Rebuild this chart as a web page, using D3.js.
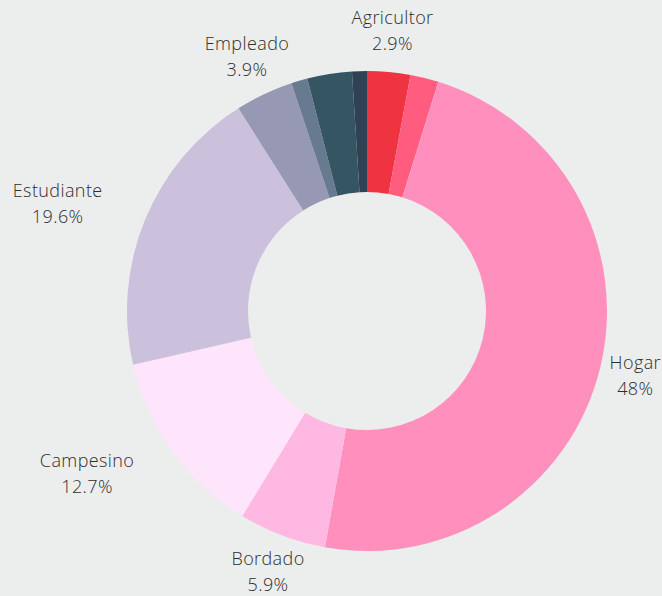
<!DOCTYPE html>
<html>
<head>
<meta charset="utf-8">
<script src="https://cdn.jsdelivr.net/npm/d3@7"></script>
<style>
  html, body { margin: 0; padding: 0; background: #eceded; }
  svg { display: block; }
  .lbl { font-family: "Open Sans", sans-serif; font-size: 18px; font-weight: 300; letter-spacing: 0.4px; fill: #2e2e2e; }
</style>
</head>
<body>
<div id="chart"></div>
<script>
// slices clockwise from 12 o'clock; empty label = no text shown
var categories = ['Agricultor', 'Otro 1', 'Hogar', 'Bordado', 'Campesino', 'Estudiante', 'Empleado', 'Otro 2', 'Otro 3', 'Otro 4']
var values = [2.9, 1.9, 48, 5.9, 12.7, 19.6, 3.9, 1.1, 3.0, 1.0]
var labels = ['2.9%', '', '48%', '5.9%', '12.7%', '19.6%', '3.9%', '', '', '']
var colors = ['#ef3340', '#ff5c80', '#ff8fbd', '#ffb8e2', '#ffe5fb', '#cbc1dc', '#9799b4', '#687a8f', '#365563', '#2f4255']

var W = 662, H = 596
var cx = 367, cy = 311
var outerR = 240, innerR = 119, labelR = 280

var svg = d3.select('#chart').append('svg')
            .attr('width', W)
            .attr('height', H)

var pie = d3.pie().sort(null).value(function (d) { return d })
var arcs = pie(values)
var arc = d3.arc().innerRadius(innerR).outerRadius(outerR)

var g = svg.append('g').attr('transform', 'translate(' + cx + ',' + cy + ')')

g.selectAll('path')
 .data(arcs)
 .enter().append('path')
 .attr('d', arc)
 .attr('fill', function (d, i) { return colors[i] })

// push side labels outward by about half their width
var smooth = function (v) {
  var t = Math.max(0, Math.min(1, (v - 0.5) / 0.3))
  return t * t * (3 - 2 * t)
}

// labels: name on first line, percent below
arcs.forEach(function (d, i) {
  if (!labels[i]) return
  var a = (d.startAngle + d.endAngle) / 2
  var s = Math.sin(a)
  var t = svg.append('text')
             .attr('class', 'lbl')
             .attr('text-anchor', 'middle')
  t.append('tspan').attr('x', 0).attr('dy', 0).text(categories[i])
  t.append('tspan').attr('x', 0).attr('dy', 26).text(labels[i])
  var w = t.node().getBBox().width
  var x = cx + labelR * s + Math.sign(s) * smooth(Math.abs(s)) * w * 0.56
  x = Math.min(x, W - w / 2 - 1)
  var y = cy - labelR * Math.cos(a) - 8
  t.attr('transform', 'translate(' + x + ',' + y + ')')
})
</script>
</body>
</html>
